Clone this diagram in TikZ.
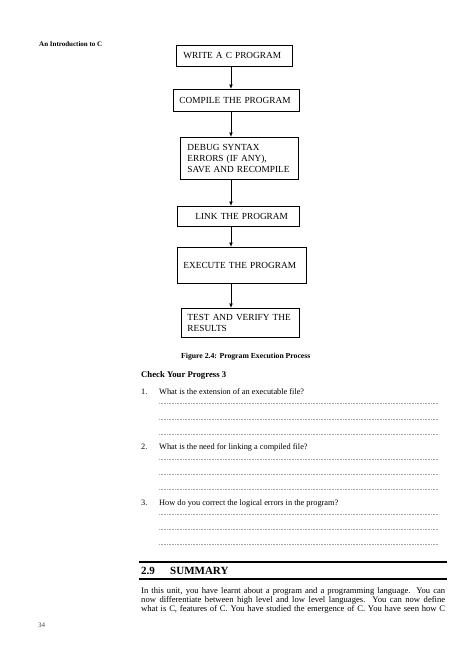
\documentclass[tikz,border=0pt]{standalone}
\usepackage{fontspec}
\setmainfont{Liberation Serif}
\usetikzlibrary{arrows.meta}
\begin{document}
\begin{tikzpicture}[x=1pt,y=-1pt,
  stepbox/.style={draw,line width=0.9pt,anchor=north west,align=left,inner ysep=0pt,
    font=\fontsize{9.3}{11}\selectfont},
  arr/.style={line width=0.9pt,-{Latex[length=4.5pt,width=4pt]}},
  txt/.style={anchor=base west,inner sep=0pt},
  dots/.style={gray!70,line width=0.5pt,dash pattern=on 0.5pt off 1.1pt},
  rule/.style={line width=1.2pt}]
\useasboundingbox (0,0) rectangle (474,670);
% header
\node[txt,font=\fontsize{7}{8}\selectfont\bfseries] (hdr) at (39,46) {An Introduction to C};
% flowchart boxes
\node[stepbox,minimum width=116pt,minimum height=21pt,text width=102pt,inner xsep=7pt] (b1) at (176,45) {\mbox{WRITE A C PROGRAM}};
\node[stepbox,minimum width=126pt,minimum height=22pt,text width=114pt,inner xsep=6pt] (b2) at (173,89) {\mbox{COMPILE THE PROGRAM}};
\node[stepbox,minimum width=118pt,minimum height=42pt,text width=104pt,inner xsep=7pt] (b3) at (180,137) {\mbox{DEBUG SYNTAX}\\\mbox{ERRORS (IF ANY),}\\\mbox{SAVE AND RECOMPILE}};
\node[stepbox,minimum width=122pt,minimum height=20pt,text width=98pt,inner xsep=12pt] (b4) at (177,206) {\mbox{\hspace*{6pt}LINK THE PROGRAM}};
\node[stepbox,minimum width=129pt,minimum height=36pt,text width=117pt,inner xsep=6pt] (b5) at (177,247) {\mbox{EXECUTE THE PROGRAM}};
\node[stepbox,minimum width=118pt,minimum height=29pt,text width=106pt,inner xsep=6pt] (b6) at (181,308) {\mbox{TEST AND VERIFY THE}\\\mbox{RESULTS}};
\coordinate (ax) at (231,0);
\draw[arr] (b1.south -| ax) -- (b2.north -| ax);
\draw[arr] (b2.south -| ax) -- (b3.north -| ax);
\draw[arr] (b3.south -| ax) -- (b4.north -| ax);
\draw[arr] (b4.south -| ax) -- (b5.north -| ax);
\draw[arr] (b5.south -| ax) -- (b6.north -| ax);
% caption
\node[txt,font=\fontsize{7.7}{9}\selectfont\bfseries] (cap) at (181,358) {Figure 2.4: Program Execution Process};
\node[txt,font=\fontsize{8.7}{10}\selectfont\bfseries] (chk) at (141,377) {Check Your Progress 3};
% questions
\begin{scope}[every node/.style={txt,font=\fontsize{8.3}{9}\selectfont}]
\node (n1) at (141,394) {1.};
\node (q1) at (159,394) {What is the extension of an executable file?};
\node (n2) at (141,449) {2.};
\node (q2) at (159,449) {What is the need for linking a compiled file?};
\node (n3) at (141,505) {3.};
\node (q3) at (159,505) {How do you correct the logical errors in the program?};
\end{scope}
\foreach \yy in {403,419,434,459,474,489,514,529,544}
  \draw[dots] (159,\yy) -- (439,\yy);
% summary
\draw[rule] (139,562) -- (447,562);
\draw[rule] (139,579) -- (447,579);
\node[txt,font=\fontsize{11}{12}\selectfont\bfseries] (sn) at (141,574) {2.9};
\node[txt,font=\fontsize{11}{12}\selectfont\bfseries] (st) at (170,574) {SUMMARY};
\node[anchor=north west,inner sep=0pt,align=left,font=\fontsize{8.6}{9.2}\selectfont] (para) at (141,587)
 {\makebox[304pt][s]{In this unit, you have learnt about a program and a programming language. You can}\\
  \makebox[304pt][s]{now differentiate between high level and low level languages. You can now define}\\
  \makebox[304pt][s]{what is C, features of C. You have studied the emergence of C. You have seen how C}};
% page number
\node[txt,font=\fontsize{7}{8}\selectfont,text=black!70] (pg) at (38,627) {34};
\end{tikzpicture}
\end{document}
